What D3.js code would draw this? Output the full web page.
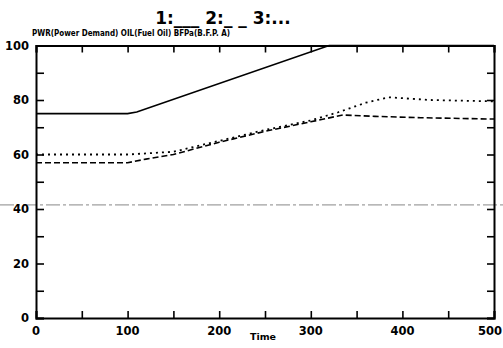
<!DOCTYPE html>
<html><head><meta charset="utf-8">
<script src="https://cdn.jsdelivr.net/npm/d3@7"></script>
<style>body{margin:0;background:#fff}svg{display:block}text{font-family:"DejaVu Sans",sans-serif;font-weight:bold;fill:#000}</style>
</head><body>
<script>
// Data
const legendTitle = "1:___  2:_ _  3:...";
const seriesNames = "PWR(Power Demand) OIL(Fuel Oil) BFPa(B.F.P. A)";
const xTicks = [0, 100, 200, 300, 400, 500];
const yTicks = [0, 20, 40, 60, 80, 100];
const pwrTime = [0, 100, 110, 320, 500];
const pwrVals = [75, 75, 75.6, 100, 100];
const oilTime = [0, 100, 120, 150, 200, 250, 300, 335, 370, 420, 500];
const oilVals = [57, 57, 58.3, 60, 64.5, 68.5, 72, 74.5, 74, 73.5, 73];
const bfpTime = [0, 100, 150, 200, 250, 300, 330, 360, 385, 430, 500];
const bfpVals = [60, 60, 61, 65, 69, 72.5, 75.5, 79, 81, 80, 79.5];
const scanLineValue = 41.5;

const W = 503, H = 348;
const m = {left: 36, right: 9, top: 45.5, bottom: 30};
const svg = d3.select("body").append("svg").attr("width", W).attr("height", H);
const x = d3.scaleLinear().domain([0, 500]).range([m.left, W - m.right]);
const y = d3.scaleLinear().domain([0, 100]).range([H - m.bottom, m.top]);

// scan artefact line
svg.append("line").attr("x1", 0).attr("x2", W)
  .attr("y1", y(scanLineValue)).attr("y2", y(scanLineValue))
  .attr("stroke", "#888").attr("stroke-width", 1).attr("stroke-dasharray", "14,3,3,3");

// axes
const tl = 7;
const minorX = d3.range(0, 501, 50), minorY = d3.range(0, 101, 10);
svg.append("g").attr("transform", `translate(0,${y(0)})`)
  .call(d3.axisBottom(x).tickValues(minorX).tickSize(-tl).tickFormat(""));
svg.append("g").attr("transform", `translate(0,${y(100)})`)
  .call(d3.axisTop(x).tickValues(minorX).tickSize(-tl).tickFormat(""));
svg.append("g").attr("transform", `translate(${x(0)},0)`)
  .call(d3.axisLeft(y).tickValues(minorY).tickSize(-8).tickFormat(""));
svg.append("g").attr("transform", `translate(${x(500)},0)`)
  .call(d3.axisRight(y).tickValues(minorY).tickSize(-tl).tickFormat(""));
svg.selectAll(".domain").attr("stroke", "#000").attr("stroke-width", 2);
svg.selectAll(".tick line").attr("stroke", "#000").attr("stroke-width", 1.6);

// tick labels
svg.append("g").selectAll("text").data(xTicks).join("text")
  .attr("x", d => d === 500 ? W - 1 : x(d)).attr("y", y(0) + 17)
  .attr("text-anchor", d => d === 500 ? "end" : "middle")
  .attr("font-size", 11.5).text(d => d);
svg.append("g").selectAll("text").data(yTicks).join("text")
  .attr("x", x(0) - 7).attr("y", d => y(d) + 4).attr("text-anchor", "end")
  .attr("font-size", 11.5).text(d => d);

svg.append("text").attr("x", 263).attr("y", 340).attr("text-anchor", "middle")
  .attr("font-size", 9.5).text("Time");

svg.append("text").attr("x", 223).attr("y", 24).attr("text-anchor", "middle")
  .attr("font-size", 17).text(legendTitle);
svg.append("text").attr("x", 32).attr("y", 36).attr("font-size", 9.5)
  .attr("textLength", 198).attr("lengthAdjust", "spacingAndGlyphs").text(seriesNames);

// lines
const line = d3.line().x(d => x(d[0])).y(d => y(d[1]));
const series = [
  {t: pwrTime, v: pwrVals, dash: null, w: 1.6},
  {t: oilTime, v: oilVals, dash: "6,3", w: 1.6},
  {t: bfpTime, v: bfpVals, dash: "2,4", w: 1.8}
];
series.forEach(s => {
  svg.append("path").datum(s.t.map((t, i) => [t, s.v[i]]))
    .attr("d", line).attr("fill", "none").attr("stroke", "#000")
    .attr("stroke-width", s.w).attr("stroke-dasharray", s.dash);
});
</script>
</body></html>
